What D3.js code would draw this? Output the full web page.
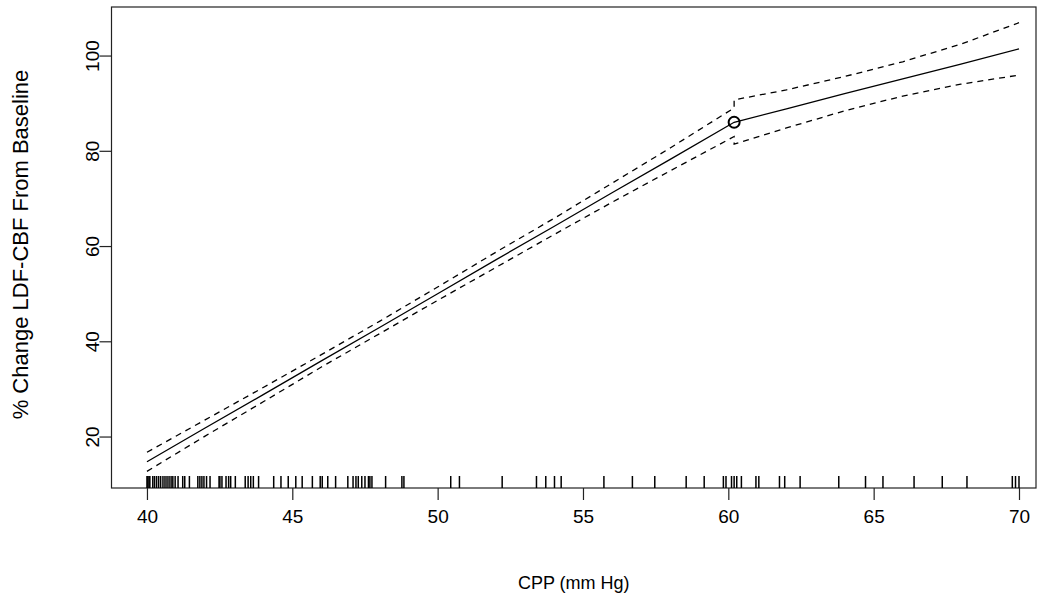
<!DOCTYPE html>
<html>
<head>
<meta charset="utf-8">
<script src="https://cdn.jsdelivr.net/npm/d3@7"></script>
<style>
  body { margin: 0; background: #fff; }
  text { font-family: "Liberation Sans", Arial, sans-serif; fill: #000; }
</style>
</head>
<body>
<div id="chart"></div>
<script>
// fitted curve, left piece (CPP, % change, lower CI, upper CI)
const leftX     = [40, 42, 44, 46, 48, 50, 52, 54, 56, 58, 60.2];
const leftFit   = [14.8, 21.9, 28.9, 36.0, 43.0, 50.1, 57.2, 64.2, 71.3, 78.3, 86.1];
const leftLower = [12.8, 20.2, 27.4, 34.7, 41.7, 48.7, 55.6, 62.5, 69.3, 75.9, 83.1];
const leftUpper = [16.8, 23.6, 30.4, 37.3, 44.3, 51.5, 58.8, 65.9, 73.3, 80.7, 89.1];

// right piece after the knot
const rightX     = [60.2, 62, 64, 66, 68, 70];
const rightFit   = [86.1, 88.9, 92.1, 95.2, 98.3, 101.5];
const rightLower = [81.5, 84.9, 88.5, 91.6, 94.1, 96.0];
const rightUpper = [90.8, 92.9, 95.7, 98.8, 102.5, 107.0];

// knot marker
const knot = { x: 60.2, y: 86.1 };

// rug of observed CPP values
const rugValues = [
  40.00, 40.03, 40.07, 40.10, 40.20, 40.26, 40.33, 40.40, 40.47, 40.55, 40.62,
  40.69, 40.76, 40.83, 40.89, 40.97, 41.07, 41.23, 41.30, 41.46, 41.75, 41.82,
  41.89, 41.96, 42.05, 42.17, 42.48, 42.51, 42.58, 42.72, 42.81, 42.88, 43.04,
  43.38, 43.48, 43.57, 43.66, 43.84, 44.36, 44.61, 44.86, 45.12, 45.34, 45.69,
  45.96, 46.03, 46.22, 46.49, 46.91, 47.09, 47.19, 47.27, 47.39, 47.50, 47.62,
  47.67, 47.74, 48.21, 48.77, 48.84, 50.45, 50.75, 52.22, 53.40, 53.72, 54.02,
  54.25, 55.72, 56.70, 57.47, 58.55, 59.17, 59.83, 59.92, 60.11, 60.20, 60.29,
  60.45, 60.95, 61.05, 61.76, 61.94, 62.47, 63.80, 64.72, 65.32, 66.39, 67.36,
  68.21, 69.77, 69.88, 70.00
];

const xTicks = [40, 45, 50, 55, 60, 65, 70];
const yTicks = [20, 40, 60, 80, 100];
const xTitle = 'CPP (mm Hg)';
const yTitle = '% Change LDF-CBF From Baseline';

const W = 1051, H = 603;
const box = { left: 111.5, right: 1036, top: 7, bottom: 488 };

const svg = d3.select('#chart').append('svg')
  .attr('width', W)
  .attr('height', H);

const xScale = d3.scaleLinear().domain([38.78, 70.585]).range([box.left, box.right]);
const yScale = d3.scaleLinear().domain([9.3, 110.3]).range([box.bottom, box.top]);

// plot box
svg.append('rect')
  .attr('x', box.left).attr('y', box.top)
  .attr('width', box.right - box.left)
  .attr('height', box.bottom - box.top)
  .attr('fill', 'none')
  .attr('stroke', '#222')
  .attr('stroke-width', 1.2);

// x axis, R style (ticks below box)
const xAxis = svg.append('g')
  .attr('transform', `translate(0, ${box.bottom})`)
  .call(d3.axisBottom(xScale).tickValues(xTicks).tickSize(12).tickPadding(10).tickFormat(d3.format('d')));
xAxis.select('.domain').remove();
xAxis.selectAll('line').attr('stroke', '#222').attr('stroke-width', 1.2);
xAxis.selectAll('text').style('font-size', '19px').attr('fill', '#000');

// y axis, labels parallel to axis
const yAxis = svg.append('g');
yAxis.selectAll('line')
  .data(yTicks)
  .enter()
  .append('line')
  .attr('x1', box.left - 12).attr('x2', box.left)
  .attr('y1', d => yScale(d)).attr('y2', d => yScale(d))
  .attr('stroke', '#222').attr('stroke-width', 1.2);
yAxis.selectAll('text')
  .data(yTicks)
  .enter()
  .append('text')
  .attr('transform', d => `translate(${box.left - 13}, ${yScale(d)}) rotate(-90)`)
  .attr('text-anchor', 'middle')
  .style('font-size', '19px')
  .text(d => d);

// titles
svg.append('text')
  .attr('x', (box.left + box.right) / 2)
  .attr('y', 589)
  .attr('text-anchor', 'middle')
  .style('font-size', '18px')
  .text(xTitle);
svg.append('text')
  .attr('transform', `translate(28, ${(box.top + box.bottom) / 2 - 3}) rotate(-90)`)
  .attr('text-anchor', 'middle')
  .style('font-size', '22px')
  .text(yTitle);

// curves
const line = d3.line().x(d => xScale(d[0])).y(d => yScale(d[1]));
const fitPts = leftX.map((x, i) => [x, leftFit[i]]).concat(rightX.map((x, i) => [x, rightFit[i]]));
const lowPts = leftX.map((x, i) => [x, leftLower[i]]).concat(rightX.map((x, i) => [x, rightLower[i]]));
const upPts = leftX.map((x, i) => [x, leftUpper[i]]).concat(rightX.map((x, i) => [x, rightUpper[i]]));

svg.append('path')
  .datum(fitPts)
  .attr('fill', 'none')
  .attr('stroke', '#000')
  .attr('stroke-width', 1.3)
  .attr('d', line);

[lowPts, upPts].forEach(pts => {
  svg.append('path')
    .datum(pts)
    .attr('fill', 'none')
    .attr('stroke', '#000')
    .attr('stroke-width', 1.3)
    .attr('stroke-dasharray', '6 5')
    .attr('d', line);
});

// knot circle
svg.append('circle')
  .attr('cx', xScale(knot.x))
  .attr('cy', yScale(knot.y))
  .attr('r', 5.5)
  .attr('fill', 'none')
  .attr('stroke', '#000')
  .attr('stroke-width', 2);

// rug
svg.append('g')
  .selectAll('line')
  .data(rugValues)
  .enter()
  .append('line')
  .attr('x1', d => xScale(d)).attr('x2', d => xScale(d))
  .attr('y1', box.bottom - 12).attr('y2', box.bottom)
  .attr('stroke', '#000')
  .attr('stroke-width', 1.5);
</script>
</body>
</html>
